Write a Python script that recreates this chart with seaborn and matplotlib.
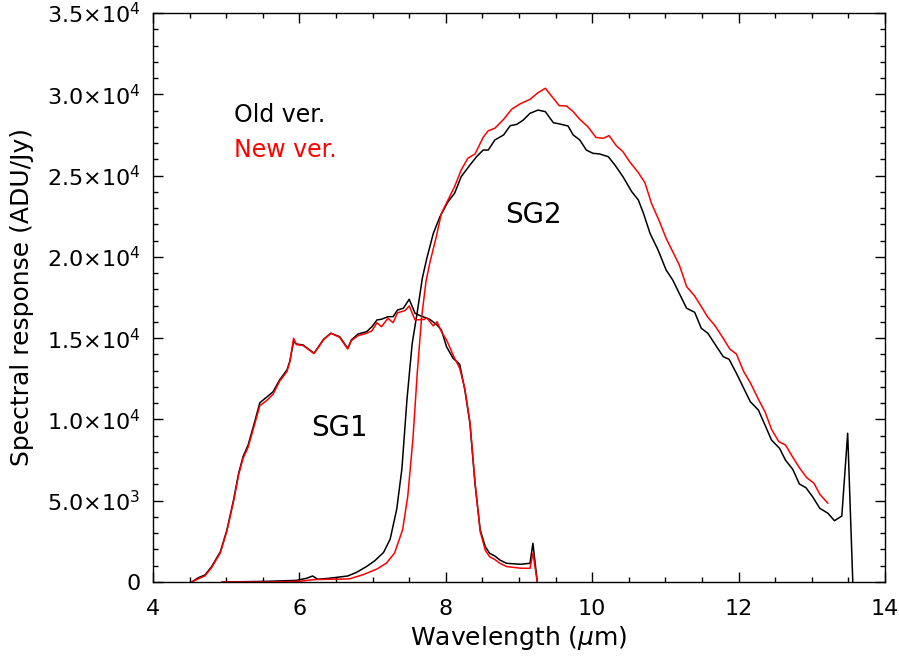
import matplotlib
matplotlib.use("Agg")
import matplotlib.pyplot as plt
import seaborn as sns
import pandas as pd
from matplotlib.ticker import MultipleLocator, FixedLocator, FixedFormatter

# ---- data ----
sg1_old_x = [4.53, 4.62, 4.71, 4.80, 4.92, 5.01, 5.10, 5.17, 5.23, 5.30, 5.37, 5.46, 5.55, 5.64,
             5.73, 5.83, 5.87, 5.92, 5.96, 6.05, 6.20, 6.33, 6.43, 6.55, 6.66, 6.71, 6.80, 6.92,
             6.99, 7.06, 7.12, 7.21, 7.28, 7.34, 7.42, 7.50, 7.58, 7.65, 7.78, 7.88, 7.94, 8.01,
             8.10, 8.19, 8.26, 8.33, 8.40, 8.47, 8.54, 8.60, 8.67, 8.74, 8.83, 9.02, 9.15, 9.19, 9.25]
sg1_old_y = [0, 265, 430, 940, 1860, 3200, 5040, 6690, 7710, 8430, 9550, 11030, 11360, 11700,
             12430, 13040, 13590, 14780, 14640, 14580, 14070, 14930, 15300, 15090, 14370, 14890, 15250, 15400,
             15700, 16120, 16160, 16320, 16320, 16730, 16840, 17390, 16530, 16380, 16160, 15810, 15500, 14470,
             13760, 13390, 11810, 9760, 6000, 3200, 2170, 1760, 1600, 1350, 1150, 1090, 1150, 2380, 0]

sg1_new_x = [4.53, 4.62, 4.71, 4.80, 4.92, 5.01, 5.10, 5.17, 5.23, 5.30, 5.37, 5.46, 5.55, 5.64,
             5.73, 5.83, 5.87, 5.92, 5.96, 6.05, 6.20, 6.33, 6.43, 6.55, 6.66, 6.71, 6.80, 6.92,
             6.99, 7.06, 7.12, 7.21, 7.28, 7.34, 7.44, 7.50, 7.58, 7.70, 7.74, 7.83, 7.88, 7.94, 8.01,
             8.10, 8.19, 8.26, 8.33, 8.40, 8.47, 8.54, 8.60, 8.67, 8.74, 8.83, 9.02, 9.15, 9.19, 9.25]
sg1_new_y = [0, 200, 380, 880, 1800, 3150, 4950, 6600, 7600, 8300, 9400, 10850, 11150, 11550,
             12350, 12950, 13550, 14990, 14600, 14550, 14050, 14900, 15300, 15050, 14330, 14850, 15150, 15300,
             15450, 15950, 15700, 16220, 15950, 16560, 16690, 16980, 16120, 16150, 16250, 15750, 16010, 15400, 14890,
             13960, 13140, 11900, 9800, 6100, 3100, 1950, 1550, 1380, 1150, 950, 850, 840, 1780, 0]

sg2_old_x = [4.94, 5.55, 5.96, 6.10, 6.18, 6.25, 6.41, 6.66, 6.78, 6.92, 7.03, 7.15, 7.24, 7.33,
             7.40, 7.47, 7.54, 7.61, 7.68, 7.74, 7.83, 7.92, 8.03, 8.12, 8.21, 8.33, 8.42, 8.51,
             8.58, 8.67, 8.79, 8.88, 8.97, 9.06, 9.15, 9.26, 9.36, 9.47, 9.56, 9.67, 9.74, 9.83,
             9.92, 10.01, 10.10, 10.22, 10.31, 10.42, 10.54, 10.63, 10.70, 10.79, 10.90, 11.01, 11.10,
             11.19, 11.29, 11.40, 11.49, 11.58, 11.67, 11.79, 11.87, 11.97, 12.06, 12.16, 12.27, 12.36,
             12.45, 12.56, 12.64, 12.74, 12.83, 12.92, 13.01, 13.11, 13.22, 13.31, 13.41, 13.49, 13.56]
sg2_old_y = [0, 40, 100, 230, 370, 170, 230, 370, 590, 960, 1310, 1820, 2640, 4490,
             6950, 11250, 14640, 16600, 18700, 19900, 21450, 22470, 23390, 23910, 24930, 25650, 26160, 26570,
             26570, 27190, 27500, 28070, 28150, 28420, 28830, 29030, 28930, 28250, 28170, 28050, 27500, 27190,
             26570, 26370, 26330, 26160, 25650, 24930, 24010, 23500, 22680, 21450, 20420, 19190, 18580,
             17750, 16840, 16590, 15610, 15300, 14680, 13860, 13700, 12840, 12010, 11090, 10580, 9660,
             8730, 8220, 7500, 6930, 6030, 5800, 5250, 4530, 4230, 3770, 4060, 9150, 0]

sg2_new_x = [4.94, 5.55, 6.00, 6.20, 6.68, 6.87, 7.06, 7.19, 7.30, 7.41, 7.48, 7.55, 7.61, 7.67,
             7.73, 7.78, 7.87, 7.94, 8.03, 8.12, 8.21, 8.30, 8.40, 8.51, 8.58, 8.67, 8.79, 8.90,
             9.01, 9.15, 9.26, 9.36, 9.45, 9.55, 9.65, 9.74, 9.83, 9.94, 10.05, 10.15, 10.23, 10.33,
             10.42, 10.51, 10.63, 10.72, 10.81, 10.92, 11.01, 11.10, 11.19, 11.29, 11.40, 11.49, 11.58,
             11.67, 11.79, 11.88, 11.97, 12.07, 12.16, 12.27, 12.36, 12.45, 12.55, 12.64, 12.73, 12.83,
             12.93, 13.03, 13.11, 13.22]
sg2_new_y = [0, 0, 40, 150, 190, 450, 800, 1170, 1780, 3220, 5260, 8750, 12850, 16300,
             18500, 19600, 21240, 22680, 23500, 24320, 25340, 26060, 26330, 27350, 27760, 27910, 28460, 29080,
             29400, 29690, 30100, 30370, 29860, 29300, 29280, 28930, 28460, 28010, 27350, 27290, 27460, 26830,
             26470, 25860, 25180, 24560, 23290, 22160, 21140, 20320, 19500, 18170, 17590, 16940, 16280,
             15810, 14990, 14330, 14020, 12940, 12260, 11240, 10480, 9390, 8630, 8430, 7750, 7030,
             6420, 6070, 5390, 4840]

ytick_vals = [0, 5000, 10000, 15000, 20000, 25000, 30000, 35000]
ytick_labels = ["0", r"5.0$\times$10$^3$", r"1.0$\times$10$^4$", r"1.5$\times$10$^4$",
                r"2.0$\times$10$^4$", r"2.5$\times$10$^4$", r"3.0$\times$10$^4$", r"3.5$\times$10$^4$"]
xtick_vals = [4, 6, 8, 10, 12, 14]
xtick_labels = ["4", "6", "8", "10", "12", "14"]

# ---- plot ----
sns.set_style("ticks")
plt.rcParams['font.family'] = ['DejaVu Sans']
plt.rcParams['mathtext.fontset'] = 'dejavusans'
plt.rcParams['text.color'] = 'black'
plt.rcParams['axes.labelcolor'] = 'black'

fig = plt.figure(figsize=(8.99, 6.6), dpi=100)
ax = fig.add_axes([153/899, 78/660, (885-153)/899, (582-13)/660])

series = [(sg1_old_x, sg1_old_y, "black"), (sg2_old_x, sg2_old_y, "black"),
          (sg2_new_x, sg2_new_y, "red"), (sg1_new_x, sg1_new_y, "red")]
for xs, ys, col in series:
    df = pd.DataFrame({"x": xs, "y": ys})
    sns.lineplot(data=df, x="x", y="y", ax=ax, color=col, lw=1.1,
                 sort=False, estimator=None)

ax.set_xlim(4, 14)
ax.set_ylim(0, 35000)
ax.xaxis.set_major_locator(FixedLocator(xtick_vals))
ax.xaxis.set_major_formatter(FixedFormatter(xtick_labels))
ax.xaxis.set_minor_locator(MultipleLocator(0.5))
ax.yaxis.set_major_locator(FixedLocator(ytick_vals))
ax.yaxis.set_major_formatter(FixedFormatter(ytick_labels))
ax.yaxis.set_minor_locator(MultipleLocator(1000))
ax.tick_params(which="both", direction="in", top=True, right=True, width=1.0,
               labelsize=16, colors="black")
ax.tick_params(axis="x", which="major", pad=12)
ax.tick_params(axis="y", which="major", pad=9)
ax.tick_params(which="major", length=7.5)
ax.tick_params(which="minor", length=3.8)
for s in ax.spines.values():
    s.set_visible(True)
    s.set_linewidth(1.0)
    s.set_color("black")

ax.set_xlabel(r"Wavelength ($\mu$m)", fontsize=18, labelpad=4)
ax.set_ylabel("Spectral response (ADU/Jy)", fontsize=18, labelpad=9)

ax.text(5.1, 28700, "Old ver.", color="black", fontsize=17, ha="left", va="center")
ax.text(5.1, 26550, "New ver.", color="red", fontsize=17, ha="left", va="center")
ax.text(6.55, 9500, "SG1", color="black", fontsize=20, ha="center", va="center")
ax.text(9.2, 22600, "SG2", color="black", fontsize=20, ha="center", va="center")

fig.savefig("out.png", dpi=100)
